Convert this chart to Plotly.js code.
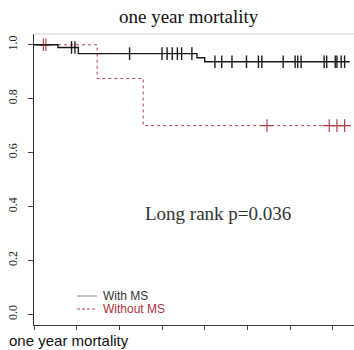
<!DOCTYPE html>
<html><head><meta charset="utf-8">
<script src="https://cdn.plot.ly/plotly-3.0.1.min.js"></script>
<style>html,body{margin:0;padding:0;background:#fff;}</style>
</head><body>
<div id="chart" style="width:354px;height:350px;"></div>
<script>
// With MS (solid black)
const withMS_time = [0, 28, 52, 191, 200, 370];
const withMS_surv = [1.0, 0.99, 0.967, 0.952, 0.937, 0.937];
const withMS_censor_time = [44, 48, 112, 150, 156, 162, 168, 173, 185, 212, 220, 232, 249, 263, 267, 292, 306, 309, 313, 340, 343, 353, 355, 360, 364];
const withMS_censor_surv = [0.99, 0.99, 0.967, 0.967, 0.967, 0.967, 0.967, 0.967, 0.967, 0.937, 0.937, 0.937, 0.937, 0.937, 0.937, 0.937, 0.937, 0.937, 0.937, 0.937, 0.937, 0.937, 0.937, 0.937, 0.937];
// Without MS (dashed red)
const withoutMS_time = [0, 74, 128, 368];
const withoutMS_surv = [1.0, 0.875, 0.7, 0.7];
const withoutMS_censor_time = [11, 14, 273, 346, 355, 364];
const withoutMS_censor_surv = [1.0, 1.0, 0.7, 0.7, 0.7, 0.7];
const yTicks = [0.0, 0.2, 0.4, 0.6, 0.8, 1.0];
const yTickText = ["0.0", "0.2", "0.4", "0.6", "0.8", "1.0"];
const xTicks = [0, 50, 100, 150, 200, 250, 300, 350];
const legendNames = ["With MS", "Without MS"];
const annotationText = "Long rank p=0.036";
const titleText = "one year mortality";
const captionText = "one year mortality";

const blackC = "#1a1a1a", redC = "#b5434f";
const traces = [
  {x: withoutMS_time, y: withoutMS_surv, mode: "lines", line: {shape: "hv", color: redC, width: 1, dash: "3px,3px"}, hoverinfo: "skip"},
  {x: withoutMS_censor_time, y: withoutMS_censor_surv, mode: "markers", marker: {symbol: "cross-thin-open", size: 9, color: redC, line: {color: redC, width: 1.2}}, hoverinfo: "skip"},
  {x: withMS_time, y: withMS_surv, mode: "lines", line: {shape: "hv", color: blackC, width: 1.4}, hoverinfo: "skip"},
  {x: withMS_censor_time, y: withMS_censor_surv, mode: "markers", marker: {symbol: "line-ns-open", size: 9, color: blackC, line: {color: blackC, width: 1.4}}, hoverinfo: "skip"}
];

const X = px => (px - 34) / 320;
const Y = py => (325 - py) / 291;

const layout = {
  width: 354, height: 350,
  margin: {l: 34, r: 0, t: 34, b: 25, pad: 0},
  paper_bgcolor: "#fff", plot_bgcolor: "#fff",
  showlegend: false,
  xaxis: {range: [0, 375], tickvals: xTicks, showticklabels: false, ticks: "outside", ticklen: 4, tickcolor: "#444",
          showline: true, linecolor: "#333", linewidth: 1.2, showgrid: false, zeroline: false, fixedrange: true},
  yaxis: {range: [-0.04, 1.04], tickvals: yTicks, ticktext: yTickText, ticks: "outside", ticklen: 5, tickcolor: "#444",
          tickangle: -90, ticklabelstandoff: 6,
          tickfont: {family: "Liberation Serif, serif", size: 12, color: "#222"},
          showline: true, linecolor: "#333", linewidth: 1.2, showgrid: false, zeroline: false, fixedrange: true},
  shapes: [
    {type: "line", xref: "paper", yref: "paper", x0: 0, x1: 1, y0: 1, y1: 1, line: {color: "#d0d0d0", width: 1}},
    {type: "line", xref: "paper", yref: "paper", x0: X(77), x1: X(97), y0: Y(296), y1: Y(296), line: {color: "#888", width: 1}},
    {type: "line", xref: "paper", yref: "paper", x0: X(77), x1: X(97), y0: Y(309), y1: Y(309), line: {color: redC, width: 1, dash: "3px,2px"}}
  ],
  annotations: [
    {text: titleText, xref: "paper", yref: "paper", x: X(189), y: Y(17), xanchor: "center", yanchor: "middle", showarrow: false,
     font: {family: "Liberation Serif, serif", size: 19, color: "#111"}},
    {text: annotationText, xref: "paper", yref: "paper", x: X(218), y: Y(213), xanchor: "center", yanchor: "middle", showarrow: false,
     font: {family: "Liberation Serif, serif", size: 19, color: "#333"}},
    {text: legendNames[0], xref: "paper", yref: "paper", x: X(101), y: Y(296), xanchor: "left", yanchor: "middle", showarrow: false,
     font: {family: "Liberation Sans, sans-serif", size: 12, color: "#333"}},
    {text: legendNames[1], xref: "paper", yref: "paper", x: X(101), y: Y(309), xanchor: "left", yanchor: "middle", showarrow: false,
     font: {family: "Liberation Sans, sans-serif", size: 12, color: "#b03040"}},
    {text: captionText, xref: "paper", yref: "paper", x: X(7), y: Y(340), xanchor: "left", yanchor: "middle", showarrow: false,
     font: {family: "Liberation Sans, Arial, sans-serif", size: 15, color: "#111"}}
  ]
};
Plotly.newPlot("chart", traces, layout, {displayModeBar: false, staticPlot: true});
</script>
</body></html>
